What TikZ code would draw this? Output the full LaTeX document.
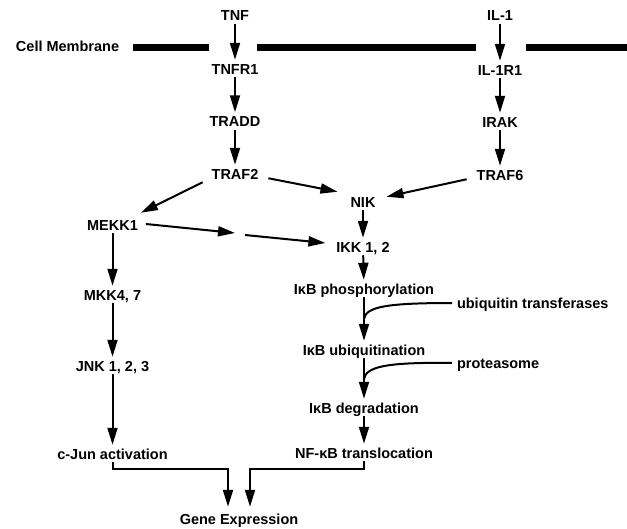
\documentclass[tikz,border=0pt]{standalone}
\usepackage{fontspec}
\setmainfont{Liberation Sans}
\usetikzlibrary{arrows.meta,calc}
\begin{document}
\begin{tikzpicture}[x=1pt,y=-1pt,
  lbl/.style={font=\fontsize{14.5}{16}\selectfont\bfseries, inner sep=0pt, outer sep=0pt, text height=10.5pt, text depth=0pt},
  arr/.style={line width=2pt, -{Triangle[length=17pt,width=10pt]}, shorten <=3pt, shorten >=4pt},
  plain/.style={line width=2pt},
  membrane/.style={line width=7pt}]
\useasboundingbox (0,0) rectangle (627,528);
% membrane
\node[lbl, anchor=west] (cm) at (16,46) {Cell Membrane};
\draw[membrane] (133,47.5) -- (209,47.5);
\draw[membrane] (257,47.5) -- (476,47.5);
\draw[membrane] (526,47.5) -- (627,47.5);
% nodes
\node[lbl] (tnf) at (235,15.5) {TNF};
\node[lbl] (tnfr) at (235,69) {TNFR1};
\node[lbl] (tradd) at (235,121.5) {TRADD};
\node[lbl] (traf2) at (235,174) {TRAF2};
\node[lbl] (il1) at (500,15.5) {IL-1};
\node[lbl] (il1r) at (500,70) {IL-1R1};
\node[lbl] (irak) at (500,122) {IRAK};
\node[lbl] (traf6) at (500,175) {TRAF6};
\node[lbl] (nik) at (363,202) {NIK};
\node[lbl] (ikk) at (363,247) {IKK 1, 2};
\node[lbl] (mekk) at (112.5,225) {MEKK1};
\node[lbl] (mkk) at (112.5,295) {MKK4, 7};
\node[lbl] (jnk) at (112.5,366) {JNK 1, 2, 3};
\node[lbl] (cjun) at (112.5,454) {c-Jun activation};
\node[lbl] (phos) at (364,289) {IκB phosphorylation};
\node[lbl, anchor=west] (ut) at (457,303) {ubiquitin transferases};
\node[lbl] (ubiq) at (364,350) {IκB ubiquitination};
\node[lbl, anchor=west] (prot) at (457,363) {proteasome};
\node[lbl] (deg) at (364,408) {IκB degradation};
\node[lbl] (nfkb) at (364,453) {NF-κB translocation};
\node[lbl] (gene) at (239,519) {Gene Expression};
\coordinate (mid) at (240,234);
% vertical arrows
\draw[arr] (tnf) -- (tnfr);
\draw[arr] (tnfr) -- (tradd);
\draw[arr] (tradd) -- (traf2);
\draw[arr] (il1) -- (il1r);
\draw[arr] (il1r) -- (irak);
\draw[arr] (irak) -- (traf6);
\draw[arr] (nik) -- (ikk);
\draw[arr] (ikk) -- (phos);
\draw[arr] (mekk) -- (mkk);
\draw[arr] (mkk) -- (jnk);
\draw[arr] (jnk) -- (cjun);
\draw[arr] (deg) -- (nfkb);
\draw[arr] (phos.south) -- (ubiq.north);
\draw[arr] (ubiq.south) -- (deg.north);
% diagonal arrows
\draw[arr, shorten <=0pt, shorten >=0pt] ([shift={(-9,3)}]traf2.south west) -- ([shift={(3,-7)}]mekk.north east);
\draw[arr, shorten <=0pt, shorten >=0pt] ([shift={(10,-1)}]traf2.south east) -- ([shift={(-13,-5)}]nik.north west);
\draw[arr, shorten <=0pt, shorten >=0pt] ([shift={(-10,-1)}]traf6.south west) -- ([shift={(11,0)}]nik.north east);
\draw[arr, shorten <=0pt, shorten >=0pt] ([shift={(8,-1)}]mekk.east) -- ([shift={(-5,-1)}]mid);
\draw[arr, shorten <=0pt, shorten >=0pt] ([shift={(5,1)}]mid) -- ([shift={(-11,-4)}]ikk.west);
% modifier curves
\draw[plain] ([xshift=-5pt]ut.west) .. controls (385,303) and (366,307) .. (364,319);
\draw[plain] ([xshift=-5pt]prot.west) .. controls (385,362) and (366,367) .. (364,379);
% to gene expression
\draw[arr, shorten >=0pt] (cjun.south) -- ++(0,10) -| ([shift={(-11,-7)}]gene.north);
\draw[arr, shorten >=0pt] (nfkb.south) -- ++(0,11) -| ([shift={(11,-7)}]gene.north);
\end{tikzpicture}
\end{document}
